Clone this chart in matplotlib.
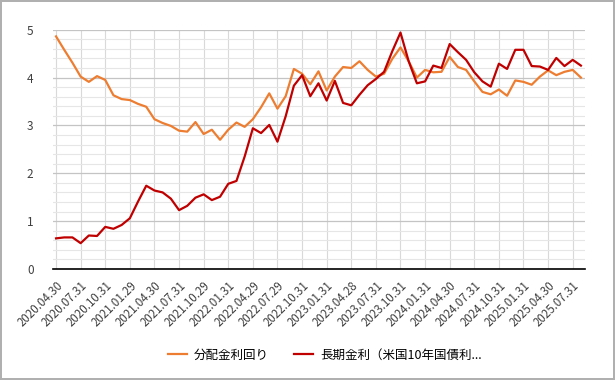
import numpy as np
import matplotlib
matplotlib.use('Agg')
import matplotlib.pyplot as plt
from matplotlib.ticker import MultipleLocator

plt.rcParams['font.family'] = ['Noto Sans CJK JP', 'DejaVu Sans']

# monthly data, 2020.04 - 2025.08
dist_yield = [4.86, 4.58, 4.31, 4.02, 3.91, 4.03, 3.95, 3.63, 3.55, 3.53,
              3.45, 3.39, 3.13, 3.05, 2.99, 2.89, 2.87, 3.07, 2.82, 2.91,
              2.70, 2.91, 3.06, 2.97, 3.13, 3.38, 3.67, 3.35, 3.61, 4.18,
              4.08, 3.86, 4.13, 3.73, 4.02, 4.22, 4.20, 4.34, 4.16, 4.02,
              4.08, 4.39, 4.63, 4.34, 4.00, 4.16, 4.11, 4.12, 4.43, 4.22,
              4.16, 3.92, 3.70, 3.65, 3.75, 3.62, 3.94, 3.91, 3.85, 4.02,
              4.15, 4.05, 4.12, 4.16, 4.00]
us10y = [0.64, 0.66, 0.66, 0.54, 0.70, 0.69, 0.88, 0.84, 0.92, 1.06,
         1.41, 1.74, 1.64, 1.60, 1.47, 1.23, 1.32, 1.49, 1.56, 1.44,
         1.51, 1.78, 1.84, 2.35, 2.94, 2.84, 3.01, 2.66, 3.19, 3.83,
         4.05, 3.61, 3.88, 3.52, 3.93, 3.47, 3.42, 3.64, 3.84, 3.97,
         4.12, 4.55, 4.94, 4.34, 3.88, 3.92, 4.25, 4.20, 4.70, 4.53,
         4.37, 4.11, 3.92, 3.81, 4.29, 4.18, 4.58, 4.58, 4.24, 4.23,
         4.16, 4.41, 4.24, 4.37, 4.25]
tick_labels = ['2020.04.30', '2020.07.31', '2020.10.31', '2021.01.29', '2021.04.30',
               '2021.07.31', '2021.10.29', '2022.01.31', '2022.04.29', '2022.07.29',
               '2022.10.31', '2023.01.31', '2023.04.28', '2023.07.31', '2023.10.31',
               '2024.01.31', '2024.04.30', '2024.07.31', '2024.10.31', '2025.01.31',
               '2025.04.30', '2025.07.31']
series_names = ['分配金利回り', '長期金利（米国10年国債利...']

x = np.arange(len(dist_yield))

fig = plt.figure(figsize=(6.15, 3.8), dpi=100)
fig.patch.set_edgecolor('#b0b0b0')
fig.patch.set_linewidth(1.5)
ax = fig.add_axes([53/615, 1-269/380, 532/615, 239.3/380])

ax.plot(x, dist_yield, color='#ED7D31', lw=1.6, label=series_names[0], zorder=3)
ax.plot(x, us10y, color='#C00000', lw=1.6, label=series_names[1], zorder=4)

ax.set_xlim(-0.37, 64.5)
ax.set_ylim(0, 5)
ax.set_xticks(np.arange(0, len(x), 3))
ax.set_xticklabels(tick_labels, rotation=45, ha='right', rotation_mode='anchor',
                   fontsize=8.3, color='#404040')
ax.yaxis.set_major_locator(MultipleLocator(1))
ax.yaxis.set_minor_locator(MultipleLocator(0.2))
ax.tick_params(axis='both', which='both', length=0)
ax.tick_params(axis='y', pad=14, labelsize=8.5, labelcolor='#404040')
ax.tick_params(axis='x', pad=7)

ax.grid(axis='y', which='major', color='#c4c4c4', lw=0.9)
ax.grid(axis='y', which='minor', color='#e6e6e6', lw=0.8)
ax.grid(axis='x', which='major', color='#d9d9d9', lw=0.8)
ax.set_axisbelow(True)
for s in ['top', 'right', 'left']:
    ax.spines[s].set_visible(False)
ax.spines['bottom'].set_color('black')
ax.spines['bottom'].set_linewidth(1.2)

fig.legend(loc='center', bbox_to_anchor=(325/615, 1-355/380), ncol=2, frameon=False,
           fontsize=9, handlelength=1.5, columnspacing=2.0, handletextpad=0.6)

fig.savefig('out.png', dpi=100, edgecolor=fig.get_edgecolor())
